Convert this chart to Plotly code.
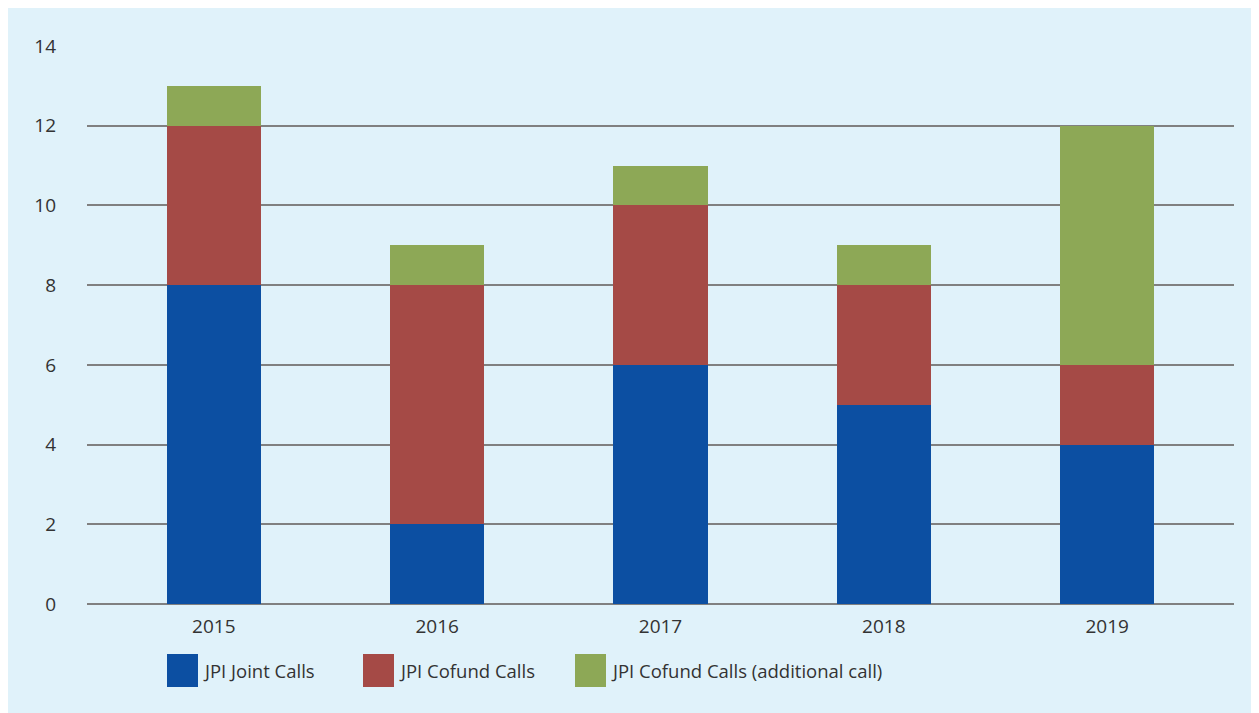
import plotly.graph_objects as go

years = ["2015", "2016", "2017", "2018", "2019"]
joint_calls = [8, 2, 6, 5, 4]
cofund_calls = [4, 6, 4, 3, 2]
cofund_additional = [1, 1, 1, 1, 6]
series_names = ["JPI Joint Calls", "JPI Cofund Calls", "JPI Cofund Calls (additional call)"]
series_colors = ["#0C4FA2", "#A54A46", "#8DA856"]
y_ticks = [0, 2, 4, 6, 8, 10, 12, 14]

BG = "#E0F2FA"
FONT = "Open Sans"
TXT = "#333333"

W, H = 1251, 705
ML, MR, MT, MB = 79, 25, 38, 109
PW, PH = W - ML - MR, H - MT - MB

def px_x(x):  # figure pixel -> paper
    return (x - ML) / PW

def px_y(y):
    return (H - MB - y) / PH

fig = go.Figure()
for name, vals, col in zip(series_names, [joint_calls, cofund_calls, cofund_additional], series_colors):
    fig.add_trace(go.Bar(x=years, y=vals, name=name, marker=dict(color=col, line=dict(width=0)),
                         width=0.421, showlegend=False))

# custom legend (large square swatches)
leg_x = [159, 355, 567]
shapes = []
annotations = []
for lx, name, col in zip(leg_x, series_names, series_colors):
    shapes.append(dict(type="rect", xref="paper", yref="paper",
                       x0=px_x(lx), x1=px_x(lx + 31), y0=px_y(646), y1=px_y(679),
                       fillcolor=col, line=dict(width=0), layer="above"))
    annotations.append(dict(xref="paper", yref="paper", x=px_x(lx + 34), y=px_y(662.5),
                            text=name, showarrow=False, xanchor="left", yanchor="middle",
                            font=dict(family=FONT, size=18.5, color=TXT)))

fig.update_layout(
    barmode="stack",
    width=W, height=H,
    margin=dict(l=ML, r=MR, t=MT, b=MB, pad=0),
    paper_bgcolor=BG, plot_bgcolor=BG,
    font=dict(family=FONT, size=19, color=TXT),
    shapes=shapes, annotations=annotations,
    xaxis=dict(range=[-0.568, 4.568], showgrid=False, zeroline=False, showline=False,
               ticks="", ticklabelstandoff=9, tickfont=dict(size=19, color=TXT)),
    yaxis=dict(range=[0, 14], tickvals=y_ticks, showgrid=True, gridcolor="#808080", gridwidth=1.6,
               zeroline=True, zerolinecolor="#808080", zerolinewidth=1.6, showline=False,
               ticks="", ticklabelstandoff=30, tickfont=dict(size=19, color=TXT)),
)

fig.write_html("out.html")
